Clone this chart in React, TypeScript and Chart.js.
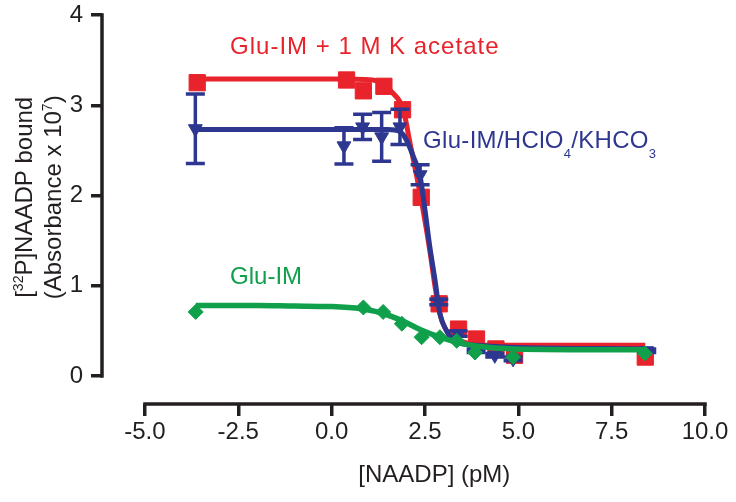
import React, { useEffect, useRef } from 'react';
import { Chart, registerables } from 'chart.js';

Chart.register(...registerables);

const FONT = '"Liberation Sans", Arial, Helvetica, sans-serif';
const INK = '#231f20';
const RED = '#e8232b';
const BLUE = '#2e3790';
const GREEN = '#10a04c';

const X_MIN = -6.15;
const X_MAX = 10;
const Y_MIN = -0.31;
const Y_MAX = 4;
const X_TICKS = [-5, -2.5, 0, 2.5, 5, 7.5, 10];
const Y_TICKS = [0, 1, 2, 3, 4];
const X_TITLE = '[NAADP] (pM)';

// Glu-IM + 1 M K acetate (red squares)
const RED_X = [-3.6, 0.4, 0.85, 1.4, 1.9, 2.4, 2.88, 3.4, 3.88, 4.4, 4.9, 8.4];
const RED_Y = [3.25, 3.28, 3.16, 3.21, 2.95, 1.98, 0.8, 0.52, 0.41, 0.3, 0.23, 0.21];
const RED_FIT_X = [-3.6, 0, 1.1, 1.65, 1.92, 2.1, 2.28, 2.45, 2.63, 2.77, 2.9, 3.08, 3.44, 4.33, 8.4];
const RED_FIT_Y = [3.29, 3.29, 3.28, 3.13, 2.95, 2.58, 2.21, 1.84, 1.39, 0.99, 0.69, 0.5, 0.39, 0.34, 0.34];

// Glu-IM/HClO4/KHCO3 (blue triangles, with SEM)
const BLUE_X = [-3.65, 0.33, 0.83, 1.34, 1.83, 2.37, 2.87, 3.39, 3.87, 4.37, 4.86, 8.44];
const BLUE_Y = [2.74, 2.55, 2.76, 2.65, 2.76, 2.23, 0.82, 0.47, 0.28, 0.23, 0.19, 0.28];
const BLUE_ERR = [0.385, 0.2, 0.14, 0.27, 0.195, 0.11, 0.03, 0.03, 0.02, 0.02, 0.02, 0.02];
const BLUE_FIT_X = [-3.65, 0, 1.5, 1.83, 2.01, 2.19, 2.37, 2.5, 2.63, 2.77, 2.9, 3.08, 3.26, 3.88, 4.78, 8.44];
const BLUE_FIT_Y = [2.73, 2.73, 2.73, 2.71, 2.61, 2.43, 2.21, 1.84, 1.43, 1.06, 0.69, 0.5, 0.39, 0.34, 0.32, 0.3];

// Glu-IM (green diamonds)
const GREEN_X = [-3.64, 0.85, 1.38, 1.88, 2.41, 2.9, 3.35, 3.84, 4.86, 8.39];
const GREEN_Y = [0.71, 0.76, 0.71, 0.58, 0.43, 0.43, 0.39, 0.26, 0.21, 0.25];
const GREEN_FIT_X = [-3.64, -2, -1, 0, 0.8, 1.4, 1.9, 2.4, 2.9, 3.4, 3.9, 4.9, 8.39];
const GREEN_FIT_Y = [0.78, 0.78, 0.775, 0.77, 0.745, 0.69, 0.61, 0.51, 0.43, 0.37, 0.33, 0.3, 0.29];

type Run = { t: string; mode?: 'sup' | 'sub' };

const Y_TITLE_1: Run[] = [{ t: '[' }, { t: '32', mode: 'sup' }, { t: 'P]NAADP bound' }];
const Y_TITLE_2: Run[] = [{ t: '(Absorbance x 10' }, { t: '7', mode: 'sup' }, { t: ')' }];

const SERIES_LABELS: { runs: Run[]; x: number; y: number; color: string; spacing: number }[] = [
  { runs: [{ t: 'Glu-IM + 1 M K acetate' }], x: -2.72, y: 3.57, color: RED, spacing: 1 },
  {
    runs: [{ t: 'Glu-IM/HClO' }, { t: '4', mode: 'sub' }, { t: '/KHCO' }, { t: '3', mode: 'sub' }],
    x: 2.45,
    y: 2.525,
    color: BLUE,
    spacing: 0.3,
  },
  { runs: [{ t: 'Glu-IM' }], x: -2.72, y: 1.015, color: GREEN, spacing: 0 },
];

const zip = (xs: number[], ys: number[]) => xs.map((x, i) => ({ x, y: ys[i] }));

function drawRuns(
  ctx: CanvasRenderingContext2D,
  runs: Run[],
  x: number,
  y: number,
  size: number,
  align: 'left' | 'center',
  spacing = 0
) {
  const c = ctx as any;
  c.letterSpacing = spacing + 'px';
  const fontFor = (r: Run) => `${r.mode === 'sub' ? 13 : r.mode === 'sup' ? 14 : size}px ${FONT}`;
  const widths = runs.map((r) => {
    ctx.font = fontFor(r);
    return ctx.measureText(r.t).width;
  });
  const total = widths.reduce((a, b) => a + b, 0);
  let cx = align === 'center' ? x - total / 2 : x;
  ctx.textAlign = 'left';
  ctx.textBaseline = 'alphabetic';
  runs.forEach((r, i) => {
    ctx.font = fontFor(r);
    const dy = r.mode === 'sup' ? -9.5 : r.mode === 'sub' ? 9.5 : 0;
    ctx.fillText(r.t, cx, y + dy);
    cx += widths[i];
  });
  c.letterSpacing = '0px';
}

const BLUE_POINTS_INDEX = 3;

const decorPlugin = {
  id: 'decor',
  beforeDatasetsDraw(chart: any) {
    const { ctx, chartArea, scales } = chart;
    const xs = scales.x;
    const ys = scales.y;
    ctx.save();
    ctx.strokeStyle = INK;
    ctx.lineWidth = 3.5;
    ctx.lineCap = 'butt';
    ctx.beginPath();
    ctx.moveTo(chartArea.left, ys.getPixelForValue(Y_TICKS[Y_TICKS.length - 1]) - 1.75);
    ctx.lineTo(chartArea.left, ys.getPixelForValue(Y_TICKS[0]) + 1.75);
    ctx.moveTo(xs.getPixelForValue(X_TICKS[0]) - 1.75, chartArea.bottom);
    ctx.lineTo(xs.getPixelForValue(X_TICKS[X_TICKS.length - 1]) + 1.75, chartArea.bottom);
    ctx.stroke();
    ctx.restore();
  },
  afterDatasetDraw(chart: any, args: any) {
    if (args.index !== BLUE_POINTS_INDEX) return;
    const { ctx, scales } = chart;
    const xs = scales.x;
    const ys = scales.y;
    ctx.save();
    ctx.strokeStyle = BLUE;
    ctx.lineWidth = 3.5;
    BLUE_X.forEach((xv, i) => {
      const px = xs.getPixelForValue(xv);
      const top = ys.getPixelForValue(BLUE_Y[i] + BLUE_ERR[i]);
      const bot = ys.getPixelForValue(BLUE_Y[i] - BLUE_ERR[i]);
      ctx.beginPath();
      ctx.moveTo(px, top);
      ctx.lineTo(px, bot);
      ctx.moveTo(px - 9.5, top);
      ctx.lineTo(px + 9.5, top);
      ctx.moveTo(px - 9.5, bot);
      ctx.lineTo(px + 9.5, bot);
      ctx.stroke();
    });
    ctx.restore();
  },
  afterDraw(chart: any) {
    const { ctx, chartArea, scales } = chart;
    const xs = scales.x;
    const ys = scales.y;
    ctx.save();
    SERIES_LABELS.forEach((l) => {
      ctx.fillStyle = l.color;
      drawRuns(ctx, l.runs, xs.getPixelForValue(l.x), ys.getPixelForValue(l.y), 24, 'left', l.spacing);
    });
    ctx.fillStyle = INK;
    const midY = ys.getPixelForValue(1.98);
    [Y_TITLE_1, Y_TITLE_2].forEach((runs, i) => {
      ctx.save();
      ctx.translate(chartArea.left - 70 + i * 29, midY);
      ctx.rotate(-Math.PI / 2);
      drawRuns(ctx, runs, 0, 0, 24, 'center');
      ctx.restore();
    });
    ctx.font = `24px ${FONT}`;
    ctx.textAlign = 'center';
    ctx.textBaseline = 'alphabetic';
    ctx.fillText(X_TITLE, xs.getPixelForValue(2.75), chartArea.bottom + 78);
    ctx.restore();
  },
};

export default function App() {
  const ref = useRef<HTMLCanvasElement | null>(null);

  useEffect(() => {
    if (!ref.current) return;
    Chart.defaults.font.family = FONT;
    const chart = new Chart(ref.current, {
      type: 'line',
      data: {
        datasets: [
          {
            data: zip(RED_FIT_X, RED_FIT_Y),
            borderColor: RED,
            borderWidth: 5,
            pointRadius: 0,
            cubicInterpolationMode: 'monotone',
            order: 6,
          },
          {
            data: zip(RED_X, RED_Y),
            showLine: false,
            pointStyle: 'rect',
            pointRadius: 11.5,
            pointBackgroundColor: RED,
            pointBorderColor: RED,
            pointBorderWidth: 1,
            order: 5,
          },
          {
            data: zip(BLUE_FIT_X, BLUE_FIT_Y),
            borderColor: BLUE,
            borderWidth: 5,
            pointRadius: 0,
            cubicInterpolationMode: 'monotone',
            order: 4,
          },
          {
            data: zip(BLUE_X, BLUE_Y),
            showLine: false,
            pointStyle: 'triangle',
            rotation: 180,
            pointRadius: 8,
            pointBackgroundColor: BLUE,
            pointBorderColor: BLUE,
            pointBorderWidth: 1,
            order: 3,
          },
          {
            data: zip(GREEN_FIT_X, GREEN_FIT_Y),
            borderColor: GREEN,
            borderWidth: 5.5,
            pointRadius: 0,
            cubicInterpolationMode: 'monotone',
            order: 2,
          },
          {
            data: zip(GREEN_X, GREEN_Y),
            showLine: false,
            pointStyle: 'rectRot',
            pointRadius: 7.5,
            pointBackgroundColor: GREEN,
            pointBorderColor: GREEN,
            pointBorderWidth: 1,
            order: 1,
          },
        ] as any,
      },
      options: {
        responsive: false,
        animation: false,
        layout: { padding: { top: 15, right: 31, left: 0, bottom: 0 } },
        plugins: { legend: { display: false }, tooltip: { enabled: false } },
        scales: {
          x: {
            type: 'linear',
            min: X_MIN,
            max: X_MAX,
            afterBuildTicks: (s: any) => {
              s.ticks = X_TICKS.map((v) => ({ value: v }));
            },
            afterFit: (s: any) => {
              s.height = 98;
              s.paddingLeft = 0;
              s.paddingRight = 0;
            },
            border: { display: false },
            grid: { display: true, drawOnChartArea: false, drawTicks: true, tickLength: 12, lineWidth: 3.5, color: INK },
            ticks: {
              color: INK,
              font: { size: 24, family: FONT },
              padding: 2,
              maxRotation: 0,
              autoSkip: false,
              callback: (v: any) => Number(v).toFixed(1),
            },
          },
          y: {
            type: 'linear',
            min: Y_MIN,
            max: Y_MAX,
            afterBuildTicks: (s: any) => {
              s.ticks = Y_TICKS.map((v) => ({ value: v }));
            },
            afterFit: (s: any) => {
              s.width = 102;
              s.paddingTop = 0;
              s.paddingBottom = 0;
            },
            border: { display: false },
            grid: { display: true, drawOnChartArea: false, drawTicks: true, tickLength: 11, lineWidth: 3.5, color: INK },
            ticks: {
              color: INK,
              font: { size: 24, family: FONT },
              padding: 8,
              autoSkip: false,
              callback: (v: any) => String(v),
            },
          },
        },
      },
      plugins: [decorPlugin],
    });
    return () => chart.destroy();
  }, []);

  return (
    <div style={{ position: 'absolute', left: 0, top: 0, width: 736, height: 502, background: '#fff' }}>
      <canvas ref={ref} width={736} height={502} style={{ display: 'block' }} />
    </div>
  );
}
